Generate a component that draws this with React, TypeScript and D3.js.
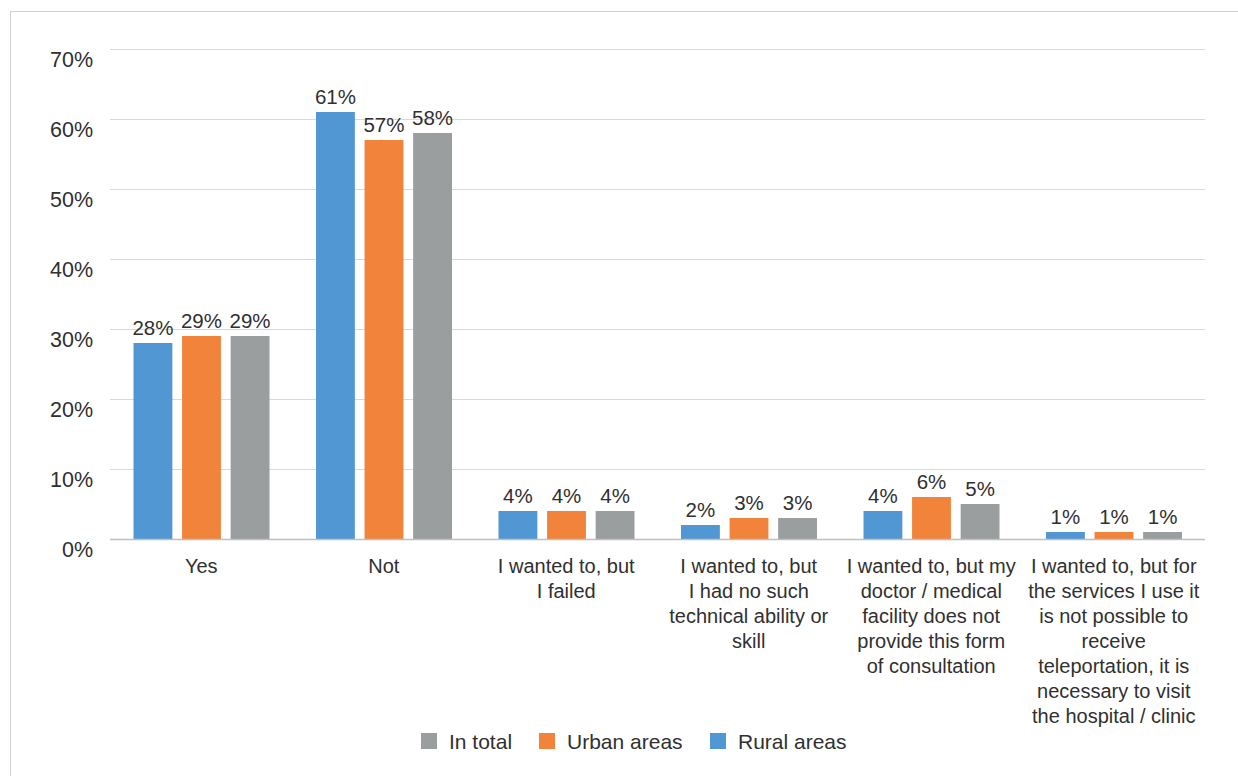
import React from "react";
import * as d3 from "d3";

const categories: string[][] = [
  ["Yes"],
  ["Not"],
  ["I wanted to, but", "I failed"],
  ["I wanted to, but", "I had no such", "technical ability or", "skill"],
  ["I wanted to, but my", "doctor / medical", "facility does not", "provide this form", "of consultation"],
  ["I wanted to, but for", "the services I use it", "is not possible to", "receive", "teleportation, it is", "necessary to visit", "the hospital / clinic"],
];
const rural = [28, 61, 4, 2, 4, 1];
const urban = [29, 57, 4, 3, 6, 1];
const total = [29, 58, 4, 3, 5, 1];
const seriesNames = ["Rural areas", "Urban areas", "In total"];
const seriesColors = ["#5097d3", "#f1833b", "#9b9e9f"];
const yTicks = [0, 10, 20, 30, 40, 50, 60, 70];
const legendOrder = [2, 1, 0];

const W = 1238;
const H = 776;
const M = { left: 110, right: 1205, top: 49, bottom: 539 };
const FONT = "'Liberation Sans', Arial, sans-serif";
const TEXT = "#303030";

export default function App() {
  const series = [rural, urban, total];
  const x0 = d3
    .scaleBand<number>()
    .domain(categories.map((_, i) => i))
    .range([M.left, M.right])
    .paddingInner(0)
    .paddingOuter(0);
  const x1 = d3
    .scaleBand<number>()
    .domain([0, 1, 2])
    .range([23.5, x0.bandwidth() - 23])
    .paddingInner(0.2)
    .paddingOuter(0);
  const y = d3.scaleLinear().domain([0, 70]).range([M.bottom, M.top]);

  const legendItems = [
    { x: 421, label: "In total" },
    { x: 539, label: "Urban areas" },
    { x: 710, label: "Rural areas" },
  ];

  return (
    <svg
      width={W}
      height={H}
      style={{ position: "absolute", left: 0, top: 0, background: "#fff" }}
      fontFamily={FONT}
    >
      <rect x={10.5} y={11.5} width={1240} height={780} fill="#fff" stroke="#d0d0d0" />
      {yTicks.map((t) => (
        <g key={t}>
          {t !== 0 && (
            <line x1={M.left} x2={M.right} y1={y(t) + 0.5} y2={y(t) + 0.5} stroke="#d9d9d9" strokeWidth={1} />
          )}
          <text x={93} y={y(t) + 18} textAnchor="end" fontSize={21.5} fill={TEXT}>
            {t}%
          </text>
        </g>
      ))}
      {categories.map((_, ci) => (
        <g key={ci} transform={`translate(${x0(ci)},0)`}>
          {series.map((s, si) => (
            <g key={si}>
              <rect
                x={x1(si)}
                y={y(s[ci])}
                width={x1.bandwidth()}
                height={y(0) - y(s[ci])}
                fill={seriesColors[si]}
              />
              <text
                x={(x1(si) as number) + x1.bandwidth() / 2}
                y={y(s[ci]) - 8}
                textAnchor="middle"
                fontSize={20.5}
                fill={TEXT}
              >
                {s[ci]}%
              </text>
            </g>
          ))}
        </g>
      ))}
      <line x1={M.left} x2={M.right} y1={M.bottom + 0.5} y2={M.bottom + 0.5} stroke="#bfbfbf" strokeWidth={1.5} />
      {categories.map((lines, ci) => (
        <text
          key={ci}
          x={(x0(ci) as number) + x0.bandwidth() / 2}
          y={573}
          textAnchor="middle"
          fontSize={20}
          fill={TEXT}
        >
          {lines.map((l, li) => (
            <tspan key={li} x={(x0(ci) as number) + x0.bandwidth() / 2} dy={li === 0 ? 0 : 25}>
              {l}
            </tspan>
          ))}
        </text>
      ))}
      {legendItems.map((it, i) => (
        <g key={i}>
          <rect x={it.x} y={733} width={16} height={16} fill={seriesColors[legendOrder[i]]} />
          <text x={it.x + 28} y={748.5} fontSize={21} fill={TEXT}>
            {seriesNames[legendOrder[i]]}
          </text>
        </g>
      ))}
    </svg>
  );
}
